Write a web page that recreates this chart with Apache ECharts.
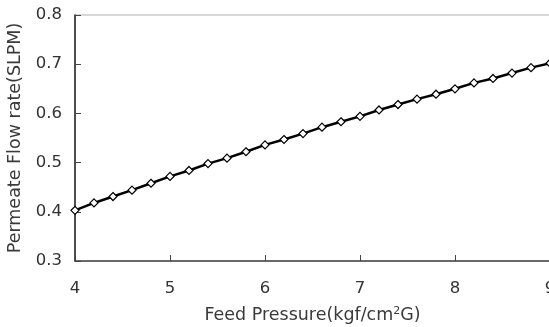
<!DOCTYPE html>
<html><head><meta charset="utf-8">
<script src="https://cdn.jsdelivr.net/npm/echarts@6/dist/echarts.min.js"></script>
<style>html,body{margin:0;padding:0;background:#fff}#c{width:549px;height:327px}</style>
</head><body><div id="c"></div>
<script>
var pressure = [4.0,4.2,4.4,4.6,4.8,5.0,5.2,5.4,5.6,5.8,6.0,6.2,6.4,6.6,6.8,7.0,7.2,7.4,7.6,7.8,8.0,8.2,8.4,8.6,8.8,9.0];
var flow = [0.403,0.418,0.431,0.444,0.458,0.472,0.484,0.498,0.509,0.522,0.536,0.547,0.559,0.572,0.583,0.594,0.607,0.618,0.629,0.639,0.650,0.662,0.671,0.682,0.693,0.702];
var xName = 'Feed Pressure(kgf/cm{s|2}G)';
var yName = 'Permeate Flow rate(SLPM)';
var data = pressure.map(function(p,i){return [p, flow[i]];});
var font = 'DejaVu Sans';
var chart = echarts.init(document.getElementById('c'), null, {renderer:'canvas'});
chart.setOption({
  animation:false,
  grid:{left:75, top:15, right:-1, bottom:66, outerBoundsMode:'none', containLabel:false, show:true, borderColor:'#b0b0b0', borderWidth:1},
  xAxis:{type:'value', min:4, max:9, interval:1,
    name:xName, nameLocation:'middle', nameGap:45,
    nameTextStyle:{fontFamily:font, fontSize:17.5, color:'#3a3a3a', rich:{s:{fontFamily:font,fontSize:11,color:'#3a3a3a',verticalAlign:'top',padding:[0,0,8,0]}}},
    axisLine:{lineStyle:{color:'#444', width:1.5}},
    axisTick:{inside:true, length:6, lineStyle:{color:'#444'}},
    axisLabel:{fontFamily:font, fontSize:16.5, color:'#333', margin:19},
    splitLine:{show:false}},
  yAxis:{type:'value', min:0.3, max:0.8, interval:0.1,
    name:yName, nameLocation:'middle', nameGap:45,
    nameTextStyle:{fontFamily:font, fontSize:17.5, color:'#3a3a3a'},
    axisLine:{show:true, lineStyle:{color:'#222', width:1.5}},
    axisTick:{show:true, inside:true, length:6, lineStyle:{color:'#444'}},
    axisLabel:{fontFamily:font, fontSize:16.5, color:'#333', margin:13, formatter:function(v){return v.toFixed(1);}},
    splitLine:{show:false}},
  series:[{type:'line', data:data, symbol:'diamond', symbolSize:8, showSymbol:true,
    lineStyle:{color:'#000', width:2.5},
    itemStyle:{color:'#fff', borderColor:'#000', borderWidth:1.2}, clip:false}]
});
</script></body></html>
